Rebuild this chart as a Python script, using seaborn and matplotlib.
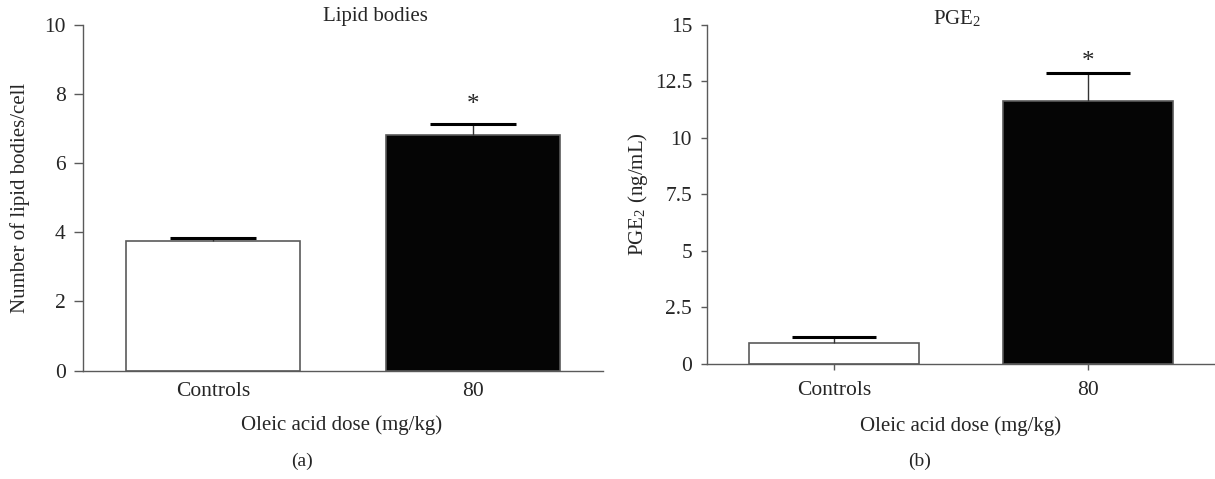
import matplotlib
matplotlib.use("Agg")
import matplotlib.pyplot as plt
import seaborn as sns
import pandas as pd

# ---- data ----
categories = ["Controls", "80"]
lipid_means = [3.75, 6.81]
lipid_err = [0.09, 0.31]
pge2_means = [0.92, 11.63]
pge2_err = [0.26, 1.21]
bar_colors = ["#ffffff", "#050505"]
lipid_yticks = [0, 2, 4, 6, 8, 10]
pge2_yticks = [0, 2.5, 5, 7.5, 10, 12.5, 15]
pge2_yticklabels = ["0", "2.5", "5", "7.5", "10", "12.5", "15"]

sns.set_theme(style="white")
plt.rcParams["font.family"] = ["Liberation Serif", "DejaVu Serif"]
plt.rcParams["mathtext.fontset"] = "stix"
FS = 15
TFS = 15.5
AX_COL = "#5a5a5a"

W, H = 1215, 479
fig = plt.figure(figsize=(W / 100, H / 100), dpi=100)


def frac_rect(left, right, top, bottom):
    return [left / W, 1 - bottom / H, (right - left) / W, (bottom - top) / H]


ax1 = fig.add_axes(frac_rect(83, 603, 24.5, 370.5))
ax2 = fig.add_axes(frac_rect(706.7, 1215, 24.5, 364))


def draw(ax, means, errs, ymax, capsize):
    df = pd.DataFrame({"cat": categories, "val": means})
    sns.barplot(data=df, x="cat", y="val", hue="cat", palette=bar_colors,
                legend=False, width=0.667, ax=ax, edgecolor=AX_COL,
                linewidth=1.2, errorbar=None)
    # one-sided (upper) error bars: thin stem, thick cap
    xs = list(range(len(categories)))
    ax.errorbar(xs, means, yerr=[[0] * len(errs), errs], fmt="none",
                ecolor="#333333", elinewidth=1.0, capsize=0, zorder=3)
    for x, m, e in zip(xs, means, errs):
        ax.plot([x], [m + e], marker="_", markersize=2 * capsize,
                markeredgewidth=2.2, color="#000000", zorder=4)
    ax.set_xlim(-0.5, 1.5)
    ax.set_ylim(0, ymax)
    for s in ["top", "right"]:
        ax.spines[s].set_visible(False)
    for s in ["left", "bottom"]:
        ax.spines[s].set_color(AX_COL)
        ax.spines[s].set_linewidth(1.0)
    ax.set_ylabel("")
    ax.set_xlabel("Oleic acid dose (mg/kg)", fontsize=FS)


draw(ax1, lipid_means, lipid_err, 10, 31)
draw(ax2, pge2_means, pge2_err, 15, 30)

# Panel a styling
ax1.set_yticks(lipid_yticks)
ax1.set_yticklabels([str(t) for t in lipid_yticks])
ax1.tick_params(axis="y", left=True, length=6.5, width=1.0, color=AX_COL,
                pad=6, labelsize=TFS)
ax1.tick_params(axis="x", bottom=False, length=0, pad=8, labelsize=TFS)
ax1.set_ylabel("Number of lipid bodies/cell", fontsize=FS)
ax1.yaxis.set_label_coords(-0.102, 0.5)
ax1.xaxis.set_label_coords(0.498, -0.128)

# Panel b styling
ax2.set_yticks(pge2_yticks)
ax2.set_yticklabels(pge2_yticklabels)
ax2.tick_params(axis="y", left=True, length=4.5, width=1.0, color=AX_COL,
                pad=6, labelsize=TFS)
ax2.tick_params(axis="x", bottom=True, length=4.5, width=1.0, color=AX_COL,
                pad=8, labelsize=TFS)
ax2.set_ylabel(r"PGE$_\mathregular{2}$ (ng/mL)", fontsize=FS)
ax2.yaxis.set_label_coords(-0.1115, 0.5)
ax2.xaxis.set_label_coords(0.50, -0.155)

# Titles
fig.text(375 / W, 1 - 17 / H, "Lipid bodies", ha="center", va="center",
         fontsize=FS)
fig.text(957 / W, 1 - 19 / H, r"PGE$_\mathregular{2}$", ha="center",
         va="center", fontsize=FS)

# Significance stars
ax1.text(1, lipid_means[1] + lipid_err[1] + 0.55, "*", ha="center",
         va="center", fontsize=FS + 3)
ax2.text(1, pge2_means[1] + pge2_err[1] + 0.5, "*", ha="center",
         va="center", fontsize=FS + 3)

# Panel letters
fig.text(302 / W, 1 - 461 / H, "(a)", ha="center", va="center", fontsize=FS - 1)
fig.text(920 / W, 1 - 461 / H, "(b)", ha="center", va="center", fontsize=FS - 1)

fig.savefig("out.png", dpi=100)
